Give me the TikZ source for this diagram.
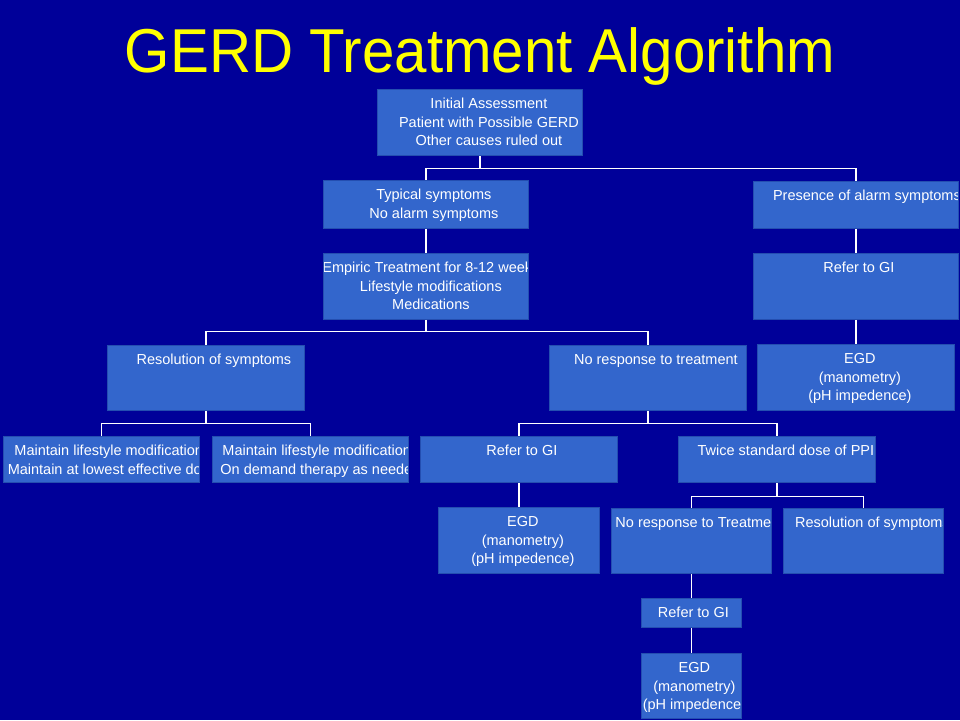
\documentclass[tikz,border=0pt]{standalone}
\usepackage{fontspec}
\setmainfont{Liberation Sans}
\usepackage{xcolor}
\definecolor{slidebg}{RGB}{0,0,153}
\definecolor{boxfill}{RGB}{51,102,204}
\definecolor{boxline}{RGB}{36,78,176}
\definecolor{titlecol}{RGB}{255,255,0}

\tikzset{
  box/.style={draw=boxline, line width=0.8pt, fill=boxfill, inner sep=0pt, anchor=north west},
  txt/.style={text=white, inner sep=0pt, minimum size=0pt, anchor=base,
    font=\fontsize{14.5}{18.5}\selectfont},
  % text lines inside a box, clipped at its border
  lines/.style 2 args={path picture={
    \foreach \ln [count=\k from 0] in {#2}
      \node[txt] at ([xshift=#1, yshift=-19.5pt-\k*18.5pt]path picture bounding box.north) {\ln};}},
  link/.style={draw=white, line width=1.2pt}
}

\begin{document}
\begin{tikzpicture}[x=1pt, y=-1pt]
  % slide background
  \useasboundingbox (0,0) rectangle (960,720);
  \fill[slidebg] (0,0) rectangle (960,720);

  % title
  \node[text=titlecol, inner sep=0pt, anchor=base, font=\fontsize{62}{70}\selectfont] (head) at (480,72) {\scalebox{0.94}[1]{GERD Treatment Algorithm}};

  % top of the tree
  \node[box, minimum width=205pt, minimum height=66pt, lines={9pt}{Initial Assessment, Patient with Possible GERD, Other causes ruled out}] (init) at (377,89) {};
  \node[box, minimum width=205pt, minimum height=48pt, lines={8pt}{Typical symptoms, No alarm symptoms}] (typ) at (323,180) {};
  \node[box, minimum width=205pt, minimum height=47pt, lines={11pt}{Presence of alarm symptoms}] (alarm) at (753,181) {};

  % typical branch
  \node[box, minimum width=205pt, minimum height=66pt, lines={5pt}{Empiric Treatment for 8-12 weeks, Lifestyle modifications, Medications}] (emp) at (323,253) {};
  \node[box, minimum width=197pt, minimum height=65pt, lines={8pt}{Resolution of symptoms}] (res) at (107,345) {};
  \node[box, minimum width=197pt, minimum height=65pt, lines={8pt}{No response to treatment}] (nores) at (549,345) {};
  \node[box, minimum width=196pt, minimum height=46pt, lines={11pt}{Maintain lifestyle modifications, Maintain at lowest effective dose}] (keep1) at (3,436) {};
  \node[box, minimum width=196pt, minimum height=46pt, lines={10pt}{Maintain lifestyle modifications, On demand therapy as needed}] (keep2) at (212,436) {};
  \node[box, minimum width=197pt, minimum height=46pt, lines={3pt}{Refer to GI}] (gi2) at (420,436) {};
  \node[box, minimum width=161pt, minimum height=66pt, lines={4pt}{EGD, (manometry), (pH impedence)}] (egd2) at (438,507) {};
  \node[box, minimum width=197pt, minimum height=46pt, lines={9pt}{Twice standard dose of PPI}] (twice) at (678,436) {};
  \node[box, minimum width=160pt, minimum height=65pt, lines={8pt}{No response to Treatment}] (nores2) at (611,508) {};
  \node[box, minimum width=160pt, minimum height=65pt, lines={9pt}{Resolution of symptoms}] (res2) at (783,508) {};
  \node[box, minimum width=100pt, minimum height=29pt, lines={2pt}{Refer to GI}] (gi3) at (641,598) {};
  \node[box, minimum width=100pt, minimum height=65pt, lines={3pt}{EGD, (manometry), (pH impedence)}] (egd3) at (641,653) {};

  % alarm branch
  \node[box, minimum width=205pt, minimum height=66pt, lines={3pt}{Refer to GI}] (gi1) at (753,253) {};
  \node[box, minimum width=197pt, minimum height=66pt, lines={4pt}{EGD, (manometry), (pH impedence)}] (egd1) at (757,344) {};

  % connectors
  \draw[link] (init.south) -- ++(0,13) -| (typ.north);
  \draw[link] (init.south) ++(0,13) -| (alarm.north);
  \draw[link] (typ.south) -- (emp.north);
  \draw[link] (alarm.south) -- (gi1.north);
  \draw[link] (gi1.south) -- (egd1.north);
  \draw[link] (emp.south) -- ++(0,12) -| (res.north);
  \draw[link] (emp.south) ++(0,12) -| (nores.north);
  \draw[link] (res.south) -- ++(0,13) -| (keep1.north);
  \draw[link] (res.south) ++(0,13) -| (keep2.north);
  \draw[link] (nores.south) -- ++(0,13) -| (gi2.north);
  \draw[link] (nores.south) ++(0,13) -| (twice.north);
  \draw[link] (gi2.south) -- (egd2.north);
  \draw[link] (twice.south) -- ++(0,14) -| (nores2.north);
  \draw[link] (twice.south) ++(0,14) -| (res2.north);
  \draw[link] (nores2.south) -- (gi3.north);
  \draw[link] (gi3.south) -- (egd3.north);
\end{tikzpicture}
\end{document}
